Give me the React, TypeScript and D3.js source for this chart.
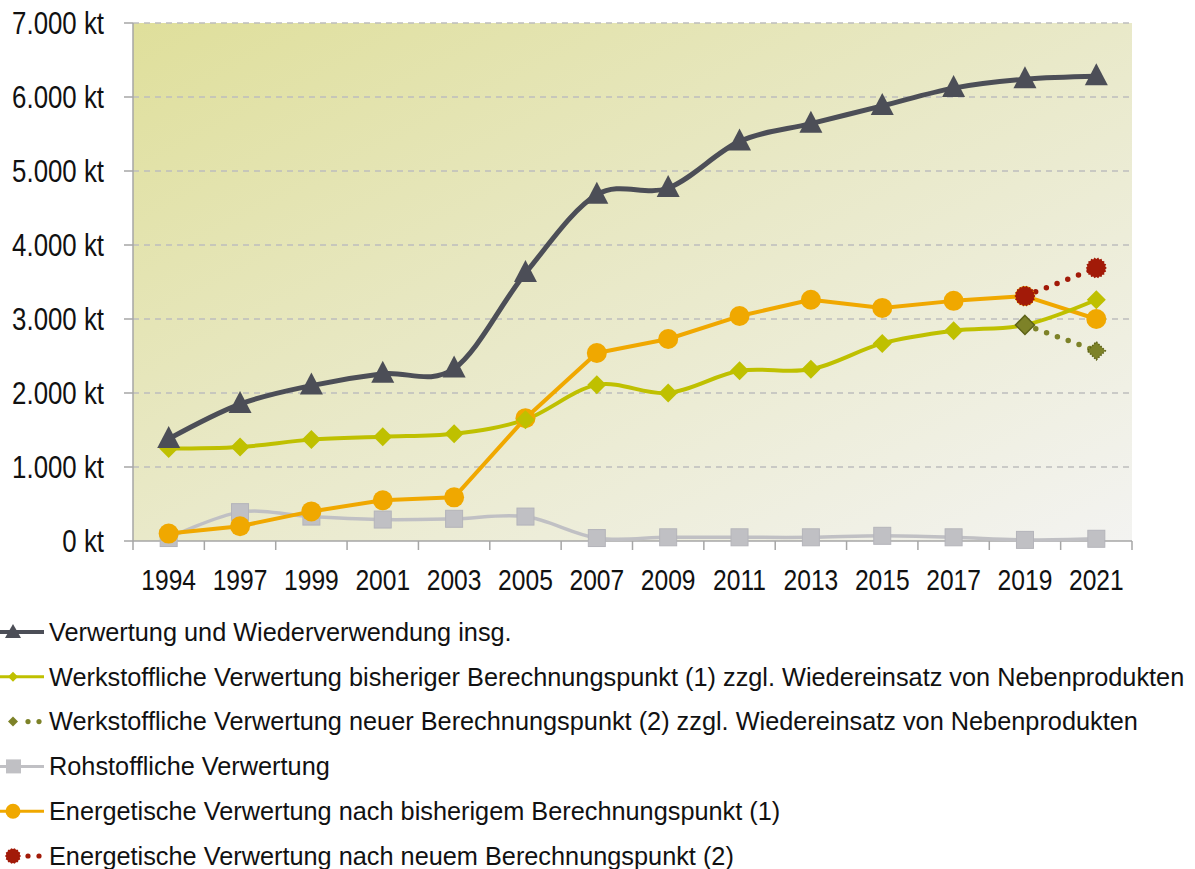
import React from "react";
import * as d3 from "d3";

const years = ["1994", "1997", "1999", "2001", "2003", "2005", "2007", "2009", "2011", "2013", "2015", "2017", "2019", "2021"];
const total = [1380, 1850, 2100, 2260, 2330, 3620, 4680, 4770, 5400, 5640, 5880, 6120, 6240, 6280];
const werkstoffAlt = [1250, 1270, 1370, 1410, 1450, 1640, 2110, 2000, 2300, 2320, 2670, 2840, 2920, 3260];
const werkstoffNeuYears = ["2019", "2021"];
const werkstoffNeu = [2920, 2570];
const rohstoff = [40, 390, 330, 290, 300, 330, 40, 50, 50, 50, 70, 50, 15, 30];
const energieAlt = [100, 200, 400, 550, 590, 1660, 2540, 2730, 3040, 3260, 3150, 3245, 3310, 3000];
const energieNeuYears = ["2019", "2021"];
const energieNeu = [3310, 3690];
const yTicks = [0, 1000, 2000, 3000, 4000, 5000, 6000, 7000];

const legendLabels = [
  "Verwertung und Wiederverwendung insg.",
  "Werkstoffliche Verwertung bisheriger Berechnungspunkt (1) zzgl. Wiedereinsatz von Nebenprodukten",
  "Werkstoffliche Verwertung neuer Berechnungspunkt (2) zzgl. Wiedereinsatz von Nebenprodukten",
  "Rohstoffliche Verwertung",
  "Energetische Verwertung nach bisherigem Berechnungspunkt (1)",
  "Energetische Verwertung nach neuem Berechnungspunkt (2)",
];

const W = 1195;
const H = 869;
const M = { left: 133, right: 1132, top: 23, bottom: 541 };
const FONT = "'Liberation Sans', Arial, sans-serif";
const NARROW = 0.82; // axis labels are set in a condensed face

const C = {
  total: "#4c4e57",
  green: "#bfc000",
  olive: "#7d8228",
  oliveEdge: "#5d6218",
  gray: "#c0c0c4",
  orange: "#f0a800",
  red: "#a21a08",
};

function burst(r: number, spikes = 18) {
  const pts: [number, number][] = [];
  for (let i = 0; i < spikes * 2; i++) {
    const a = (Math.PI * i) / spikes;
    const rr = i % 2 === 0 ? r : r * 0.86;
    pts.push([Math.cos(a) * rr, Math.sin(a) * rr]);
  }
  return "M" + pts.map((p) => p.join(",")).join("L") + "Z";
}

function Marker({ kind, x, y }: { kind: string; x: number; y: number }) {
  if (kind === "tri") {
    return <path d="M0,-13L11.5,9L-11.5,9Z" transform={`translate(${x},${y})`} fill={C.total} />;
  }
  if (kind === "diamond") {
    return <path d="M0,-9.5L9.5,0L0,9.5L-9.5,0Z" transform={`translate(${x},${y})`} fill={C.green} />;
  }
  if (kind === "diamondOlive") {
    return (
      <path
        d="M0,-9.5L9.5,0L0,9.5L-9.5,0Z"
        transform={`translate(${x},${y})`}
        fill={C.olive}
        stroke={C.oliveEdge}
        strokeWidth={1.5}
      />
    );
  }
  if (kind === "diamondDotted") {
    return (
      <path
        d="M0,-9L9,0L0,9L-9,0Z"
        transform={`translate(${x},${y})`}
        fill={C.olive}
        stroke={C.oliveEdge}
        strokeWidth={1.5}
        strokeDasharray="1.5 1.5"
      />
    );
  }
  if (kind === "square") {
    return <rect x={x - 8.5} y={y - 8.5} width={17} height={17} fill={C.gray} stroke="#b4b4ba" strokeWidth={1} />;
  }
  if (kind === "circle") {
    return <circle cx={x} cy={y} r={10} fill={C.orange} />;
  }
  return <path d={burst(10.5)} transform={`translate(${x},${y})`} fill={C.red} />;
}

export default function App() {
  const x = d3.scaleBand<string>().domain(years).range([M.left, M.right]);
  const y = d3.scaleLinear().domain([0, 7000]).range([M.bottom, M.top]);
  const cx = (yr: string) => (x(yr) as number) + x.bandwidth() / 2;

  const smooth = d3
    .line<[string, number]>()
    .x((d) => cx(d[0]))
    .y((d) => y(d[1]))
    .curve(d3.curveCardinal.tension(0));
  const straight = d3
    .line<[string, number]>()
    .x((d) => cx(d[0]))
    .y((d) => y(d[1]));

  const zip = (ys: string[], vs: number[]) => ys.map((yr, i) => [yr, vs[i]] as [string, number]);

  const series = [
    { key: "roh", pts: zip(years, rohstoff), line: smooth, color: C.gray, width: 3.5, marker: "square" },
    { key: "energieAlt", pts: zip(years, energieAlt), line: straight, color: C.orange, width: 4, marker: "circle" },
    { key: "werkAlt", pts: zip(years, werkstoffAlt), line: smooth, color: C.green, width: 4, marker: "diamond" },
    { key: "total", pts: zip(years, total), line: smooth, color: C.total, width: 5, marker: "tri" },
  ];

  const dotted = [
    { key: "werkNeu", pts: zip(werkstoffNeuYears, werkstoffNeu), color: C.olive, markers: ["diamondOlive", "diamondDotted"] },
    { key: "energieNeu", pts: zip(energieNeuYears, energieNeu), color: C.red, markers: ["burst", "burst"] },
  ];

  const legendRows = [
    { color: C.total, marker: "tri", dotted: false },
    { color: C.green, marker: "diamondSmall", dotted: false },
    { color: C.olive, marker: "diamondSmallOlive", dotted: true },
    { color: C.gray, marker: "square", dotted: false },
    { color: C.orange, marker: "circle", dotted: false },
    { color: C.red, marker: "burst", dotted: true },
  ];

  return (
    <svg width={W} height={H} style={{ position: "absolute", left: 0, top: 0 }} fontFamily={FONT}>
      <defs>
        <linearGradient id="bg" x1="0" y1="0" x2="1" y2="1">
          <stop offset="0" stopColor="#dfdf9b" />
          <stop offset="0.5" stopColor="#e9e9c9" />
          <stop offset="1" stopColor="#f3f3f1" />
        </linearGradient>
      </defs>
      <rect x={0} y={0} width={W} height={H} fill="#fff" />
      <rect x={M.left} y={M.top} width={M.right - M.left} height={M.bottom - M.top} fill="url(#bg)" />

      {yTicks.map((t) => (
        <g key={t}>
          {t > 0 && (
            <line
              x1={M.left}
              x2={M.right}
              y1={y(t)}
              y2={y(t)}
              stroke="#bdbdbd"
              strokeWidth={1.5}
              strokeDasharray="6 5"
            />
          )}
          <line x1={M.left - 9} x2={M.left} y1={y(t)} y2={y(t)} stroke="#a6a6a6" strokeWidth={1.5} />
          <text
            transform={`translate(104,${y(t)}) scale(${NARROW},1)`}
            dy="0.36em"
            textAnchor="end"
            fontSize={31.5}
            fill="#111"
          >
            {d3.format(",")(t).replace(/,/g, ".") + " kt"}
          </text>
        </g>
      ))}

      <line x1={M.left} x2={M.left} y1={M.top} y2={M.bottom} stroke="#a6a6a6" strokeWidth={1.5} />
      <line x1={M.left} x2={M.right} y1={M.bottom} y2={M.bottom} stroke="#a6a6a6" strokeWidth={1.5} />
      {years.concat(["end"]).map((yr, i) => {
        const px = M.left + i * x.bandwidth();
        return <line key={yr} x1={px} x2={px} y1={M.bottom} y2={M.bottom + 9} stroke="#a6a6a6" strokeWidth={1.5} />;
      })}
      {years.map((yr) => (
        <text
          key={yr}
          transform={`translate(${cx(yr)},590) scale(${NARROW},1)`}
          textAnchor="middle"
          fontSize={30}
          fill="#111"
        >
          {yr}
        </text>
      ))}

      {series.map((s) => (
        <path key={s.key} d={s.line(s.pts) || ""} fill="none" stroke={s.color} strokeWidth={s.width} strokeLinejoin="round" />
      ))}
      {dotted.map((s) => (
        <path
          key={s.key}
          d={straight(s.pts) || ""}
          fill="none"
          stroke={s.color}
          strokeWidth={5.5}
          strokeLinecap="round"
          strokeDasharray="0 11.5"
          strokeDashoffset={-11.5}
        />
      ))}
      {series.map((s) => (
        <g key={s.key + "m"}>
          {s.pts.map((p) => (
            <Marker key={p[0]} kind={s.marker} x={cx(p[0])} y={y(p[1])} />
          ))}
        </g>
      ))}
      {dotted.map((s) => (
        <g key={s.key + "m"}>
          {s.pts.map((p, i) => (
            <Marker key={p[0]} kind={s.markers[i]} x={cx(p[0])} y={y(p[1])} />
          ))}
        </g>
      ))}

      {legendRows.map((r, i) => {
        const ly = 632 + i * 44.8;
        return (
          <g key={i}>
            {r.dotted ? (
              <g fill={r.color}>
                <circle cx={28} cy={ly} r={2.6} />
                <circle cx={39} cy={ly} r={2.6} />
              </g>
            ) : (
              <line x1={0} x2={44} y1={ly} y2={ly} stroke={r.color} strokeWidth={i === 0 ? 4 : 3} />
            )}
            {r.marker === "tri" && <path d={`M13,${ly - 8}L21,${ly + 6}L5,${ly + 6}Z`} fill={C.total} />}
            {r.marker === "diamondSmall" && (
              <path d={`M13,${ly - 5}L18,${ly}L13,${ly + 5}L8,${ly}Z`} fill={C.green} />
            )}
            {r.marker === "diamondSmallOlive" && (
              <path d={`M13,${ly - 5}L18,${ly}L13,${ly + 5}L8,${ly}Z`} fill={C.olive} />
            )}
            {r.marker === "square" && <rect x={6} y={ly - 7} width={15} height={14} fill={C.gray} />}
            {r.marker === "circle" && <circle cx={13} cy={ly} r={7.5} fill={C.orange} />}
            {r.marker === "burst" && <path d={burst(8, 14)} transform={`translate(13,${ly})`} fill={C.red} />}
            <text x={49} y={ly} dy="0.35em" fontSize={25.3} fill="#111">
              {legendLabels[i]}
            </text>
          </g>
        );
      })}
    </svg>
  );
}
